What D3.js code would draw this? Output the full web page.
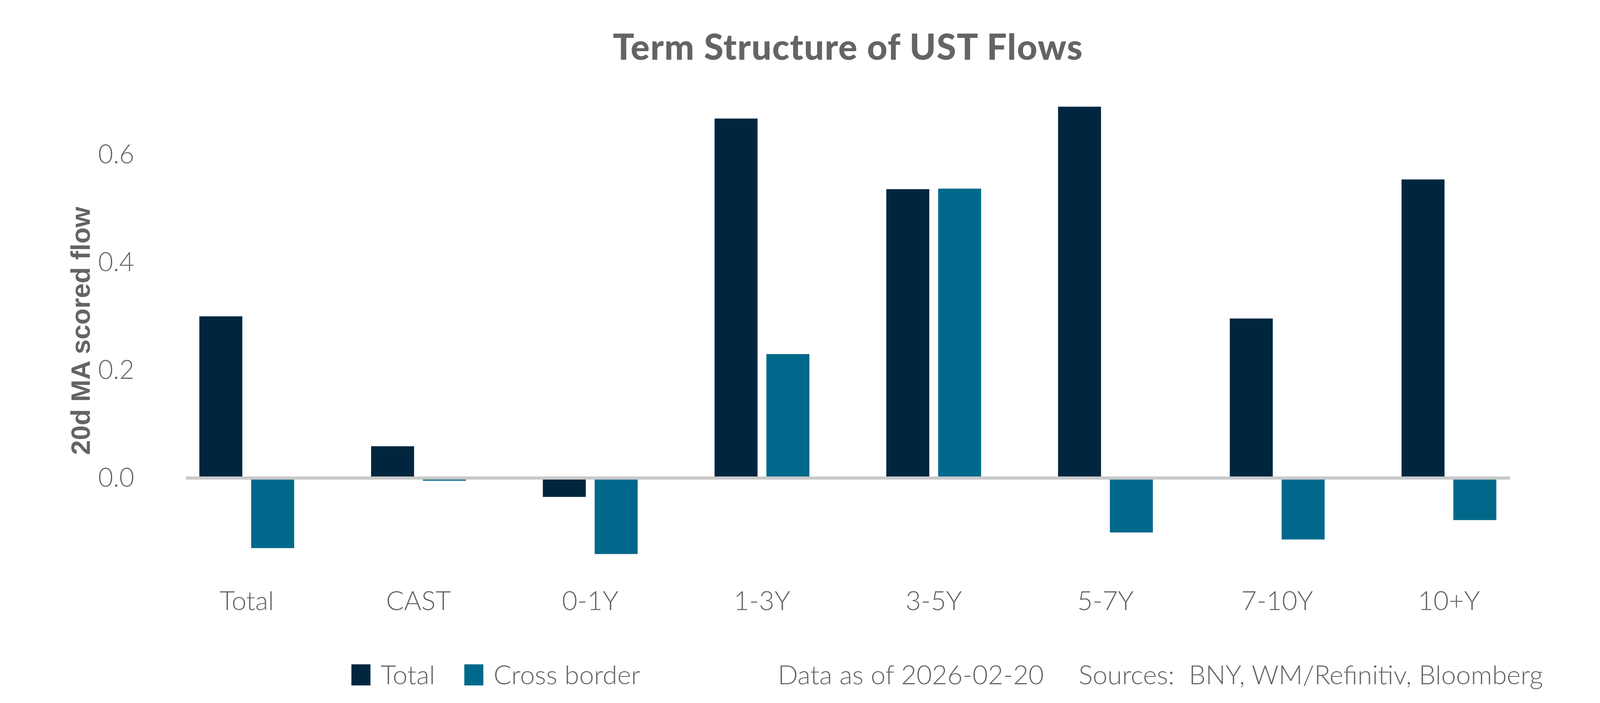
<!DOCTYPE html>
<html>
<head>
<meta charset="utf-8">
<script src="https://cdn.jsdelivr.net/npm/d3@7"></script>
<style>
  html, body { margin: 0; padding: 0; background: #fff; overflow: hidden; }
  svg { display: block; }
  text { font-family: Lato, "Noto Sans", sans-serif; fill: #636466; }
</style>
</head>
<body>
<div id="chart"></div>
<script>
// chart data
var categories = ["Total", "CAST", "0-1Y", "1-3Y", "3-5Y", "5-7Y", "7-10Y", "10+Y"];
var seriesNames = ["Total", "Cross border"];
var totalFlow = [0.300, 0.059, -0.035, 0.667, 0.536, 0.689, 0.296, 0.554];
var crossBorderFlow = [-0.130, -0.005, -0.141, 0.230, 0.537, -0.101, -0.114, -0.078];
var yTicks = [0, 0.2, 0.4, 0.6];

var colors = { "Total": "#00263f", "Cross border": "#00698b" };

// layout is worked out on a 5400x1800 page and stretched to the real window
var width = window.innerWidth || 5400, height = window.innerHeight || 1800;
var sx = width / 5400, sy = height / 1800;
var fk = Math.min(sy, Math.sqrt(sx * sy));
function X(v) { return v * sx; }
function Y(v) { return v * sy; }
function F(v) { return v * fk; }

var svg = d3.select('#chart').append('svg')
  .attr('width', width)
  .attr('height', height);

var x0 = d3.scaleBand()
  .domain(categories)
  .range([X(543), X(5180)])
  .padding(0);

var groupW = X(320);
var x1 = d3.scaleBand()
  .domain(seriesNames)
  .range([(x0.bandwidth() - groupW) / 2, (x0.bandwidth() + groupW) / 2])
  .paddingInner(0.171);

var y = d3.scaleLinear()
  .domain([-0.2, 0.7])
  .range([Y(1500), Y(258)]);

// rows: one per category, each holding both series
var rows = categories.map(function(c, i) {
  return { cat: c, values: [
    { name: "Total", v: totalFlow[i] },
    { name: "Cross border", v: crossBorderFlow[i] }
  ] };
});

var groups = svg.append('g').selectAll('g')
  .data(rows)
  .enter()
  .append('g')
  .attr('transform', function(d) { return 'translate(' + x0(d.cat) + ',0)'; });

groups.selectAll('rect')
  .data(function(d) { return d.values; })
  .enter()
  .append('rect')
  .attr('x', function(d) { return x1(d.name); })
  .attr('width', x1.bandwidth())
  .attr('y', function(d) { return d.v >= 0 ? y(d.v) : y(0); })
  .attr('height', function(d) { return Math.abs(y(d.v) - y(0)); })
  .attr('fill', function(d) { return colors[d.name]; });

// zero line
svg.append('line')
  .attr('x1', X(627)).attr('x2', X(5097))
  .attr('y1', y(0)).attr('y2', y(0))
  .attr('stroke', '#c9c9c9')
  .attr('stroke-width', Y(8));

// y axis (labels only)
var yAxis = d3.axisLeft(y)
  .tickValues(yTicks)
  .tickFormat(d3.format('.1f'))
  .tickSize(0)
  .tickPadding(0);

var yg = svg.append('g')
  .attr('transform', 'translate(' + X(453) + ',0)')
  .call(yAxis);
yg.select('.domain').remove();
yg.selectAll('text')
  .attr('font-size', F(76))
  .attr('font-weight', 300)
  .style('font-family', 'Lato, "Noto Sans", sans-serif')
  .attr('fill', '#636466');

// x axis (labels only)
var xAxis = d3.axisBottom(x0).tickSize(0).tickPadding(0);
var xg = svg.append('g')
  .attr('transform', 'translate(0,' + Y(1538) + ')')
  .call(xAxis);
xg.select('.domain').remove();
xg.selectAll('text')
  .attr('dy', '0.35em')
  .attr('y', 0)
  .attr('font-size', F(78))
  .attr('font-weight', 300)
  .style('font-family', 'Lato, "Noto Sans", sans-serif')
  .attr('fill', '#636466');

// y axis title
svg.append('text')
  .attr('transform', 'translate(' + X(272) + ',' + Y(847) + ') rotate(-90)')
  .attr('text-anchor', 'middle')
  .attr('dominant-baseline', 'central')
  .attr('font-size', F(78))
  .attr('font-weight', 'bold')
  .style('font-family', '"Liberation Sans", Arial, sans-serif')
  .text('20d MA scored flow');

// title
svg.append('text')
  .attr('x', X(2862))
  .attr('y', Y(153))
  .attr('text-anchor', 'middle')
  .attr('font-size', F(104))
  .attr('font-weight', 900)
  .attr('letter-spacing', F(2))
  .text('Term Structure of UST Flows');

// legend
var legendX = [1186, 1567];
var legend = svg.append('g').selectAll('g')
  .data(seriesNames)
  .enter()
  .append('g')
  .attr('transform', function(d, i) { return 'translate(' + X(legendX[i]) + ',' + Y(1728) + ')'; });
legend.append('rect')
  .attr('x', 0).attr('y', -F(31))
  .attr('width', F(56)).attr('height', F(62))
  .attr('fill', function(d) { return colors[d]; });
legend.append('text')
  .attr('x', F(86))
  .attr('dy', '0.35em')
  .attr('font-size', F(78))
  .attr('font-weight', 300)
  .text(function(d) { return d; });

// footnotes, placed by their centres so they never run into each other
svg.append('text')
  .attr('x', X(3074)).attr('y', Y(1728)).attr('dy', '0.35em')
  .attr('text-anchor', 'middle')
  .attr('font-size', F(78)).attr('font-weight', 300)
  .text('Data as of 2026-02-20');

svg.append('text')
  .attr('x', X(4424)).attr('y', Y(1728)).attr('dy', '0.35em')
  .attr('text-anchor', 'middle')
  .attr('font-size', F(78)).attr('font-weight', 300)
  .attr('xml:space', 'preserve')
  .text('Sources:  BNY, WM/Refinitiv, Bloomberg');
</script>
</body>
</html>
